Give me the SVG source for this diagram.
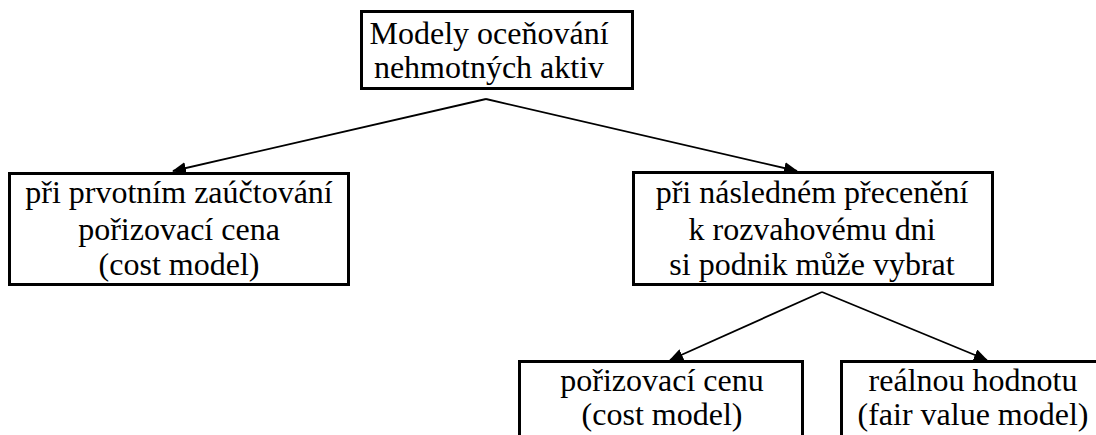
<svg xmlns="http://www.w3.org/2000/svg" width="1096" height="435" viewBox="0 0 1096 435">
<style>
.box{fill:#fff;stroke:#000;stroke-width:3}
.t{font-family:'Liberation Serif','Times New Roman',serif;font-size:32px;fill:#000;text-anchor:middle}
.c{fill:none;stroke:#000;stroke-width:1.8}
</style>
<defs>
<marker id="arr" markerWidth="14" markerHeight="12" refX="13" refY="6" orient="auto" markerUnits="userSpaceOnUse">
<path d="M0,0 L14,6 L0,12 Z" fill="#000"/>
</marker>
</defs>
<rect width="1096" height="435" fill="#fff"/>
<g id="connectors">
<polyline class="c" points="486,99 173,171" marker-end="url(#arr)"/>
<polyline class="c" points="486,99 797,171" marker-end="url(#arr)"/>
<polyline class="c" points="822,292 670,360" marker-end="url(#arr)"/>
<polyline class="c" points="822,292 987,360" marker-end="url(#arr)"/>
</g>
<g id="root">
<rect class="box" x="361.5" y="11.5" width="271" height="77"/>
<text class="t" x="489" y="44">Modely oceňování</text>
<text class="t" x="489" y="78">nehmotných aktiv</text>
</g>
<g id="initial">
<rect class="box" x="9.5" y="173.5" width="339" height="111"/>
<text class="t" x="179" y="203">při prvotním zaúčtování</text>
<text class="t" x="179" y="240">pořizovací cena</text>
<text class="t" x="179" y="275">(cost model)</text>
</g>
<g id="subsequent">
<rect class="box" x="633.5" y="172.5" width="359" height="112"/>
<text class="t" x="812" y="203">při následném přecenění</text>
<text class="t" x="812" y="240">k rozvahovému dni</text>
<text class="t" x="812" y="275">si podnik může vybrat</text>
</g>
<g id="cost">
<rect class="box" x="519.5" y="361.5" width="283" height="90"/>
<text class="t" x="662" y="391">pořizovací cenu</text>
<text class="t" x="662" y="425">(cost model)</text>
</g>
<g id="fair">
<rect class="box" x="841.5" y="361.5" width="264" height="90"/>
<text class="t" x="973" y="391">reálnou hodnotu</text>
<text class="t" x="973" y="425">(fair value model)</text>
</g>
</svg>
